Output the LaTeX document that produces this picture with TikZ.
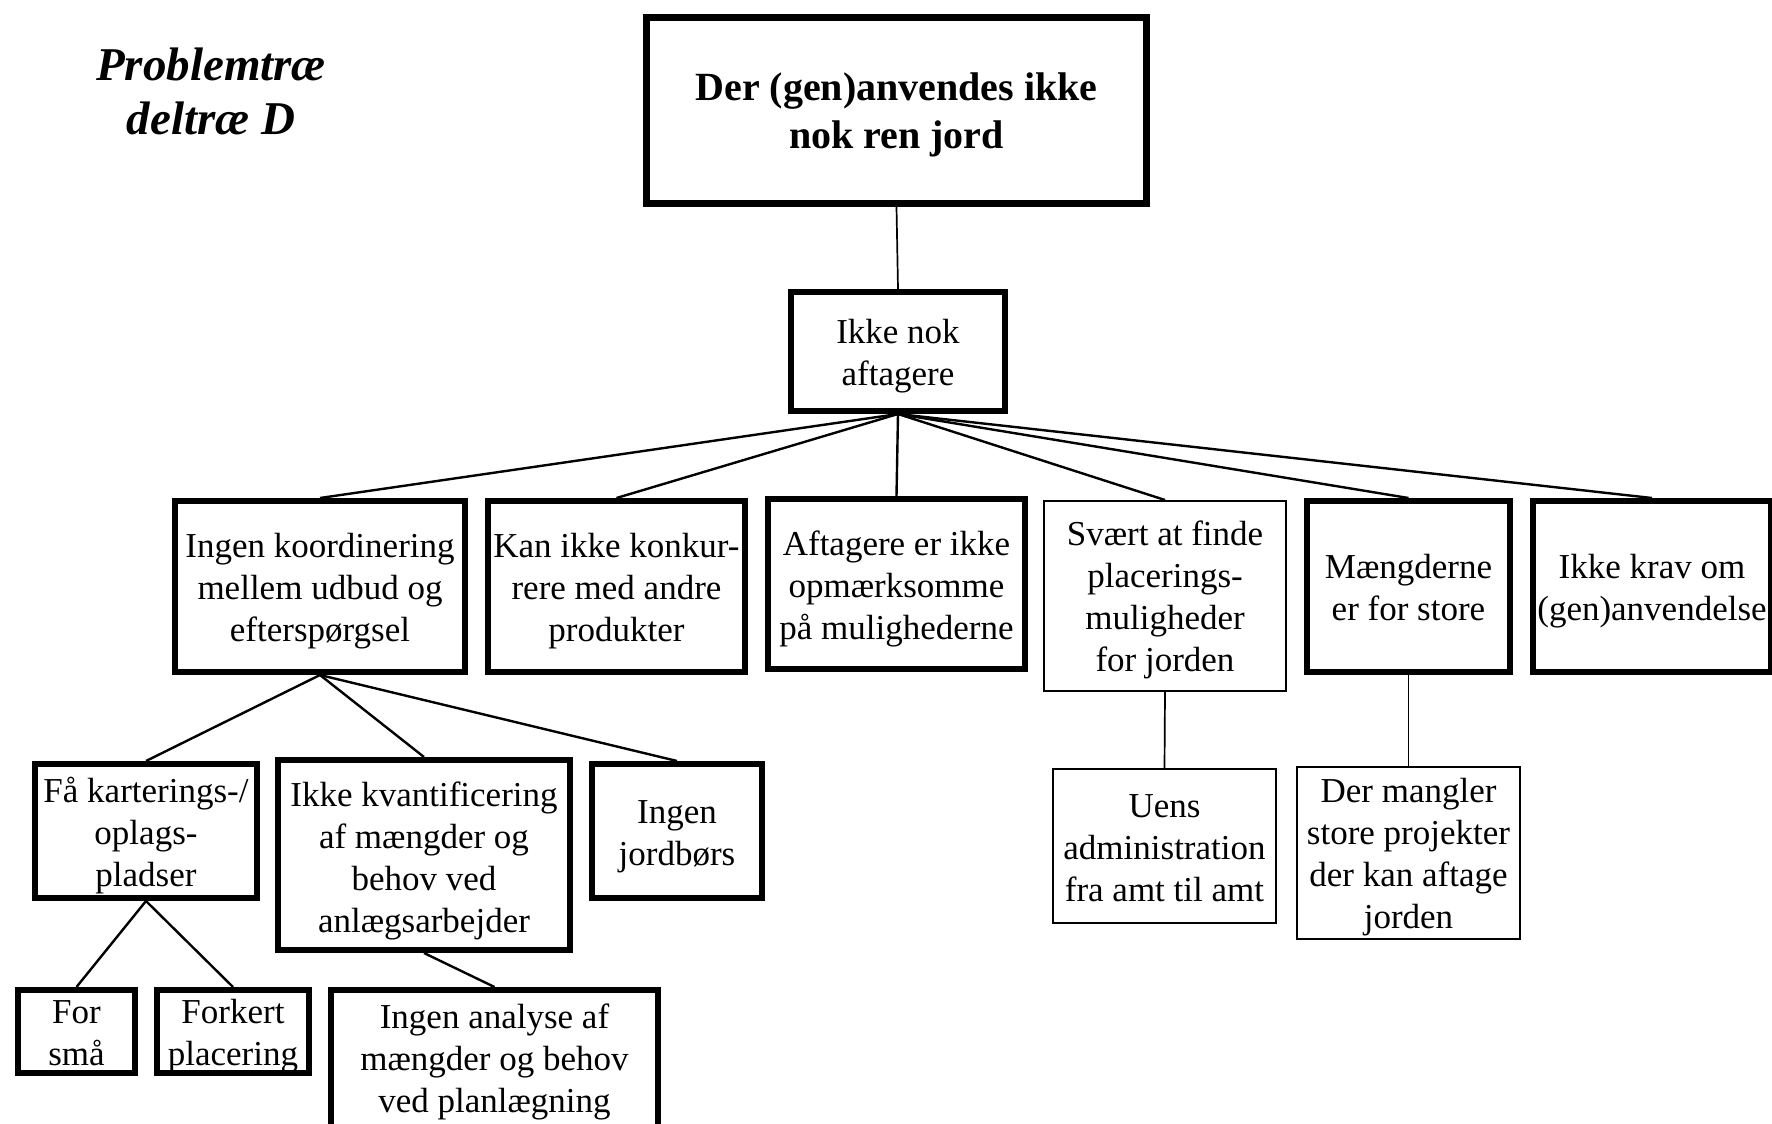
\documentclass[tikz,border=0pt]{standalone}
\usepackage{fontspec}
\setmainfont{Liberation Serif}
\begin{document}
\begin{tikzpicture}[x=1pt,y=-1pt,
  every node/.style={align=center, inner sep=0pt, outer sep=0pt},
  txt/.style={font=\fontsize{35}{42}\selectfont},
  thickbox/.style={draw, line width=6pt, outer sep=3pt},
  thinbox/.style={draw, line width=2pt, outer sep=1pt},
  conn/.style={line width=2.4pt},
  thinconn/.style={line width=1.7pt}]
\useasboundingbox (0,0) rectangle (1772,1124);
\clip (0,0) rectangle (1772,1124);

% heading
\node[font=\fontsize{47}{54}\selectfont\bfseries\itshape] (title) at (211,91.5)
  {Problemtræ\\deltræ D};

% root and first level
\node[draw, line width=7pt, outer sep=3.5pt, minimum width=500pt, minimum height=186pt] (root) at (896.5,110.5) {};
\node[font=\fontsize{40}{48}\selectfont\bfseries] (root-t) at ([yshift=-4.5pt]root.center)
  {Der (gen)anvendes ikke\\nok ren jord};
\node[thickbox, minimum width=214pt, minimum height=119pt] (ikke) at (898,351.5) {};
\node[txt] (ikke-t) at ([yshift=-5pt]ikke.center) {Ikke nok\\aftagere};

% second level
\node[thickbox, minimum width=290pt, minimum height=171pt] (A) at (320,586.5) {};
\node[txt] (A-t) at ([yshift=-4.5pt]A.center)
  {Ingen koordinering\\mellem udbud og\\efterspørgsel};
\node[thickbox, minimum width=257pt, minimum height=171pt] (B) at (616.5,586.5) {};
\node[txt] (B-t) at ([yshift=-4.5pt]B.center)
  {Kan ikke konkur-\\rere med andre\\produkter};
\node[thickbox, minimum width=257pt, minimum height=170pt] (C) at (896.5,584) {};
\node[txt] (C-t) at ([yshift=-4.5pt]C.center)
  {Aftagere er ikke\\opmærksomme\\på mulighederne};
\node[thinbox, minimum width=242pt, minimum height=190pt] (D) at (1165,596) {};
\node[txt] (D-t) at ([yshift=-3.5pt]D.center)
  {Svært at finde\\placerings-\\muligheder\\for jorden};
\node[thickbox, minimum width=203pt, minimum height=171pt] (E) at (1408.5,586.5) {};
\node[txt] (E-t) at ([yshift=-1pt]E.center) {Mængderne\\er for store};
\node[thickbox, minimum width=238pt, minimum height=171pt] (F) at (1652,586.5) {};
\node[txt] (F-t) at ([yshift=-5pt]F.center) {Ikke krav om\\(gen)anvendelse};

% third level
\node[thickbox, minimum width=222pt, minimum height=134pt] (G) at (146,831) {};
\node[txt] (G-t) at ([yshift=-4.5pt]G.center) {Få karterings-/\\oplags-\\pladser};
\node[thickbox, minimum width=292pt, minimum height=190pt] (H) at (424,855) {};
\node[txt] (H-t) at ([yshift=-6pt]H.center)
  {Ikke kvantificering\\af mængder og\\behov ved\\anlægsarbejder};
\node[thickbox, minimum width=170pt, minimum height=134pt] (I) at (677,831) {};
\node[txt] (I-t) at ([yshift=-5.5pt]I.center) {Ingen\\jordbørs};
\node[thinbox, minimum width=223pt, minimum height=154pt] (U) at (1164.5,846) {};
\node[txt] (U-t) at ([yshift=-2pt]U.center) {Uens\\administration\\fra amt til amt};
\node[thinbox, minimum width=223pt, minimum height=172pt] (P) at (1408.5,853) {};
\node[txt] (P-t) at ([yshift=-4pt]P.center)
  {Der mangler\\store projekter\\der kan aftage\\jorden};

% fourth level
\node[thickbox, minimum width=117pt, minimum height=83pt] (J) at (76.5,1031.5) {};
\node[txt] (J-t) at ([yshift=-2pt]J.center) {For\\små};
\node[thickbox, minimum width=152pt, minimum height=83pt] (K) at (233,1031.5) {};
\node[txt] (K-t) at ([yshift=-5pt]K.center) {Forkert\\placering};
\node[thickbox, minimum width=327pt, minimum height=144pt] (L) at (494.5,1062) {};
\node[txt] (L-t) at (L.center) {Ingen analyse af\\mængder og behov\\ved planlægning};

% connectors
\draw[thinconn] (root.south) -- (ikke.north);
\foreach \n in {A,B,C,D,E,F}
  \draw[conn] (ikke.south) -- (\n.north);
\foreach \n in {G,H,I}
  \draw[conn] (A.south) -- (\n.north);
\draw[conn] (G.south) -- (J.north);
\draw[conn] (G.south) -- (K.north);
\draw[conn] (H.south) -- (L.north);
\draw[thinconn] (D.south) -- (U.north);
\draw[thinconn] (E.south) -- (P.north);
\end{tikzpicture}
\end{document}
